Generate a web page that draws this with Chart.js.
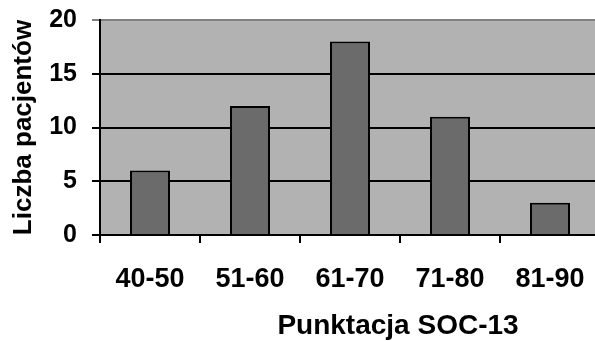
<!DOCTYPE html>
<html>
<head>
<meta charset="utf-8">
<script src="https://cdn.jsdelivr.net/npm/chart.js@4"></script>
<style>
  html, body { margin: 0; padding: 0; background: #fff; overflow: hidden; }
  #wrap { width: 620px; height: 341px; }
</style>
</head>
<body>
<div id="wrap"><canvas id="chart" width="620" height="341"></canvas></div>
<script>
// data
const categories = ["40-50", "51-60", "61-70", "71-80", "81-90"];
const patients = [6, 12, 18, 11, 3];
const yTicks = [0, 5, 10, 15, 20];

const FONT = "'Liberation Sans', Arial, sans-serif";

// gray plot background + x axis title
const plotBg = {
  id: "plotBg",
  beforeDraw(chart) {
    const { ctx, chartArea: a } = chart;
    ctx.save();
    ctx.fillStyle = "#b2b2b2";
    ctx.fillRect(a.left, a.top, a.right - a.left, a.bottom - a.top);
    ctx.restore();
  },
  afterDraw(chart) {
    const { ctx } = chart;
    ctx.save();
    ctx.font = "bold 28px " + FONT;
    ctx.fillStyle = "#000";
    ctx.textAlign = "center";
    ctx.textBaseline = "middle";
    ctx.fillText("Punktacja SOC-13", 398, 326);
    ctx.restore();
  },
};

const ctx = document.getElementById("chart").getContext("2d");
const chart = new Chart(ctx, {
  type: "bar",
  data: {
    labels: categories,
    datasets: [
      {
        label: "Liczba pacjentów",
        data: patients,
        backgroundColor: "#6b6b6b",
        borderColor: "#000",
        borderWidth: 2,
        categoryPercentage: 1,
        barPercentage: 0.4,
      },
    ],
  },
  options: {
    responsive: false,
    animation: false,
    layout: { padding: { top: 20, right: 20, bottom: 0, left: 0 } },
    plugins: {
      legend: { display: false },
      tooltip: { enabled: false },
    },
    scales: {
      x: {
        grid: {
          display: true,
          drawOnChartArea: false,
          tickLength: 8,
          color: "#000",
          lineWidth: 2,
        },
        border: { color: "#000", width: 2 },
        ticks: {
          color: "#000",
          font: { family: FONT, size: 27, weight: "bold" },
          padding: 20,
          maxRotation: 0,
        },
        afterFit(scale) {
          scale.height = 106;
        },
      },
      y: {
        min: 0,
        max: 20,
        afterBuildTicks(scale) {
          scale.ticks = yTicks.map((v) => ({ value: v }));
        },
        grid: {
          color: (c) => (c.tick && c.tick.value === 20 ? "#808080" : "#000"),
          lineWidth: 2,
          tickLength: 8,
        },
        border: { color: "#000", width: 2 },
        ticks: {
          color: "#000",
          font: { family: FONT, size: 25, weight: "bold", lineHeight: 0.4 },
          padding: 15,
        },
        title: {
          display: true,
          text: "Liczba pacjentów",
          color: "#000",
          font: { family: FONT, size: 26, weight: "bold" },
          padding: { top: 8, bottom: 0 },
        },
        afterFit(scale) {
          scale.width = 100;
        },
      },
    },
  },
  plugins: [plotBg],
});
</script>
</body>
</html>
